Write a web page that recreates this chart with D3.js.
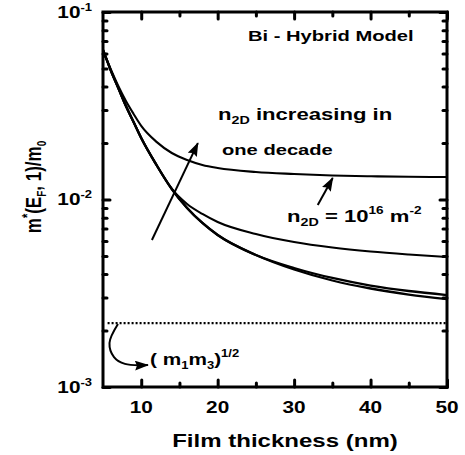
<!DOCTYPE html>
<head>
    <style>
        body { margin: 0; background: #fff; }
        svg { font-family: 'Liberation Sans', Arial, sans-serif; font-weight: bold; }
        .frame { fill: none; stroke: #000; stroke-width: 3px; }
        .curve { fill: none; stroke: #000; stroke-linejoin: round; }
        .tick line { stroke: #000; stroke-width: 3px; stroke-linecap: round; }
        .domain { display: none; }
        .arrow { fill: none; stroke: #000; stroke-width: 2px; }
        .ref { fill: none; stroke: #000; stroke-width: 2.2px; stroke-dasharray: 2,2; }
    </style>
</head>
<body>
    <script src="https://d3js.org/d3.v7.min.js"></script>
    <script>
        // film thickness (nm) and effective mass m*(EF,1)/m0
        var thickness = [5, 5.5, 6, 7, 8, 9, 10, 12, 14, 16, 18, 20, 25, 30, 35, 40, 45, 50];
        var massA = [0.0612, 0.0555, 0.0497, 0.0403, 0.0335, 0.0286, 0.0247, 0.0203, 0.0177,
                     0.01624, 0.01528, 0.01472, 0.01402, 0.01368, 0.01343, 0.01330, 0.01322, 0.01318];
        var massB = [0.0627, 0.0555, 0.0490, 0.0393, 0.0315, 0.02591, 0.02128, 0.01528, 0.01138,
                     0.009462, 0.008372, 0.007586, 0.006546, 0.005934, 0.005546, 0.00528, 0.005089, 0.004934];
        var massC = [0.0627, 0.0555, 0.0490, 0.0393, 0.0315, 0.02591, 0.02128, 0.01528, 0.01138,
                     0.00901, 0.007495, 0.006466, 0.005058, 0.004312, 0.003814, 0.003477, 0.003251, 0.003094];
        var massD = [0.0627, 0.0555, 0.0490, 0.0393, 0.0315, 0.02591, 0.02128, 0.01528, 0.01138,
                     0.00901, 0.007495, 0.006466, 0.005058, 0.004233, 0.003698, 0.003352, 0.003113, 0.002946];
        var geomMean = 0.00219;   // (m1 m3)^1/2

        var xTicks = [10, 20, 30, 40, 50];
        var xMinorTicks = [15, 25, 35, 45];
        var xTickLabels = ['10', '20', '30', '40', '50'];
        var yTicks = [1e-3, 1e-2, 1e-1];
        var yTickExponents = ['-3', '-2', '-1'];

        // annotation arrows, in data coordinates
        var bigArrow = [[11.4, 0.00608], [17.41, 0.0200]];
        var smallArrow = [[33.09, 0.00935], [35.05, 0.01303]];
        var curlArrow = [[6.96, 0.002168], [5.85, 0.001718], [6.44, 0.001445], [7.87, 0.001328], [10.88, 0.00131]];

        var dim = {'w': 465, 'h': 455,
                   'left': 103, 'right': 447, 'top': 12, 'bottom': 387};
        var SX = 1.3;   // glyphs in the original are stretched horizontally

        var svg = d3.select('body')
                    .append('svg')
                    .attr('width', dim.w)
                    .attr('height', dim.h);

        var x = d3.scaleLinear()
                  .domain([5, 50])
                  .range([dim.left, dim.right]);
        var y = d3.scaleLog()
                  .domain([1e-3, 1e-1])
                  .range([dim.bottom, dim.top]);

        var yMinorTicks = y.ticks().filter(function(d) {
            var l = Math.log10(d);
            return Math.abs(l - Math.round(l)) > 1e-6;
        });

        svg.append('defs')
           .append('marker')
           .attr('id', 'head')
           .attr('viewBox', '0 0 14 10')
           .attr('refX', 13)
           .attr('refY', 5)
           .attr('markerWidth', 14)
           .attr('markerHeight', 10)
           .attr('markerUnits', 'userSpaceOnUse')
           .attr('orient', 'auto')
           .append('path')
           .attr('d', 'M0,0 L14,5 L0,10 L2,5 Z')
           .attr('fill', '#000');

        // ticks on all four sides, pointing inward
        function ticks(axisFn, scale, vals, size, transform) {
            svg.append('g')
               .attr('transform', transform)
               .call(axisFn(scale).tickValues(vals).tickSize(size)
                     .tickSizeOuter(0).tickFormat(''));
        }
        ticks(d3.axisBottom, x, xTicks, -7, 'translate(0,' + dim.bottom + ')');
        ticks(d3.axisBottom, x, xMinorTicks, -4, 'translate(0,' + dim.bottom + ')');
        ticks(d3.axisTop, x, xTicks, -7, 'translate(0,' + dim.top + ')');
        ticks(d3.axisTop, x, xMinorTicks, -4, 'translate(0,' + dim.top + ')');
        ticks(d3.axisLeft, y, yTicks, -7, 'translate(' + dim.left + ',0)');
        ticks(d3.axisLeft, y, yMinorTicks, -4, 'translate(' + dim.left + ',0)');
        ticks(d3.axisRight, y, yTicks, -7, 'translate(' + dim.right + ',0)');
        ticks(d3.axisRight, y, yMinorTicks, -4, 'translate(' + dim.right + ',0)');

        svg.append('rect')
           .attr('class', 'frame')
           .attr('x', dim.left)
           .attr('y', dim.top)
           .attr('width', dim.right - dim.left)
           .attr('height', dim.bottom - dim.top);

        // curves
        var line = d3.line()
                     .x(function(d) { return x(d[0]); })
                     .y(function(d) { return y(d[1]); })
                     .curve(d3.curveMonotoneX);

        [[massA, 2.1], [massB, 2.1], [massC, 2.3], [massD, 2.3]].forEach(function(s) {
            svg.append('path')
               .datum(thickness.map(function(t, i) { return [t, s[0][i]]; }))
               .attr('class', 'curve')
               .attr('stroke-width', s[1])
               .attr('d', line);
        });

        svg.append('line')
           .attr('class', 'ref')
           .attr('x1', x(5.6))
           .attr('x2', x(50))
           .attr('y1', y(geomMean))
           .attr('y2', y(geomMean));

        // arrows
        [bigArrow, smallArrow].forEach(function(a) {
            svg.append('path')
               .attr('class', 'arrow')
               .attr('d', d3.line().x(function(d) { return x(d[0]); })
                                   .y(function(d) { return y(d[1]); })(a))
               .attr('marker-end', 'url(#head)');
        });
        svg.append('path')
           .attr('class', 'arrow')
           .attr('d', line.curve(d3.curveCatmullRom)(curlArrow))
           .attr('marker-end', 'url(#head)');

        // text helper: stretched group at (px, py)
        function label(px, py, size, rot) {
            return svg.append('g')
                      .attr('transform', 'translate(' + px + ',' + py + ') scale(' + SX + ',1)' +
                            (rot ? ' rotate(' + rot + ')' : ''))
                      .append('text')
                      .attr('font-size', size);
        }
        function part(t, str, size, dy) {
            t.append('tspan').attr('font-size', size).attr('dy', dy || 0).text(str);
            return t;
        }

        // tick labels
        yTicks.forEach(function(d, i) {
            var t = label(92, y(d) + 5.5, 16).attr('text-anchor', 'end');
            part(t, '10', 16);
            part(t, yTickExponents[i], 10, -7);
        });
        xTicks.forEach(function(d, i) {
            label(x(d), 413, 16).attr('text-anchor', 'middle').text(xTickLabels[i]);
        });

        // axis titles
        label(285, 447, 18.5).attr('text-anchor', 'middle').text('Film thickness (nm)');
        var yt = label(41, 187, 17, -90).attr('text-anchor', 'middle');
        part(yt, 'm', 17);
        part(yt, '*', 11, -7);
        part(yt, '(E', 17, 7);
        part(yt, 'F', 10, 4);
        part(yt, ', 1)/m', 17, -4);
        part(yt, '0', 10, 4);

        // annotations
        label(248, 41, 15.5).text('Bi - Hybrid Model');
        var t1 = label(218, 120, 17);
        part(t1, 'n', 17);
        part(t1, '2D', 11, 4);
        part(t1, ' increasing in', 17, -4);
        label(222, 155, 15.5).text('one decade');
        var t2 = label(287, 222, 17);
        part(t2, 'n', 17);
        part(t2, '2D', 11, 4);
        part(t2, ' = 10', 17, -4);
        part(t2, '16', 10.5, -8);
        part(t2, ' m', 17, 8);
        part(t2, '-2', 10.5, -8);
        var t3 = label(150, 365, 16);
        part(t3, '( m', 16);
        part(t3, '1', 10, 4);
        part(t3, 'm', 16, -4);
        part(t3, '3', 10, 4);
        part(t3, ')', 16, -4);
        part(t3, '1/2', 10, -8);
    </script>
</body>
